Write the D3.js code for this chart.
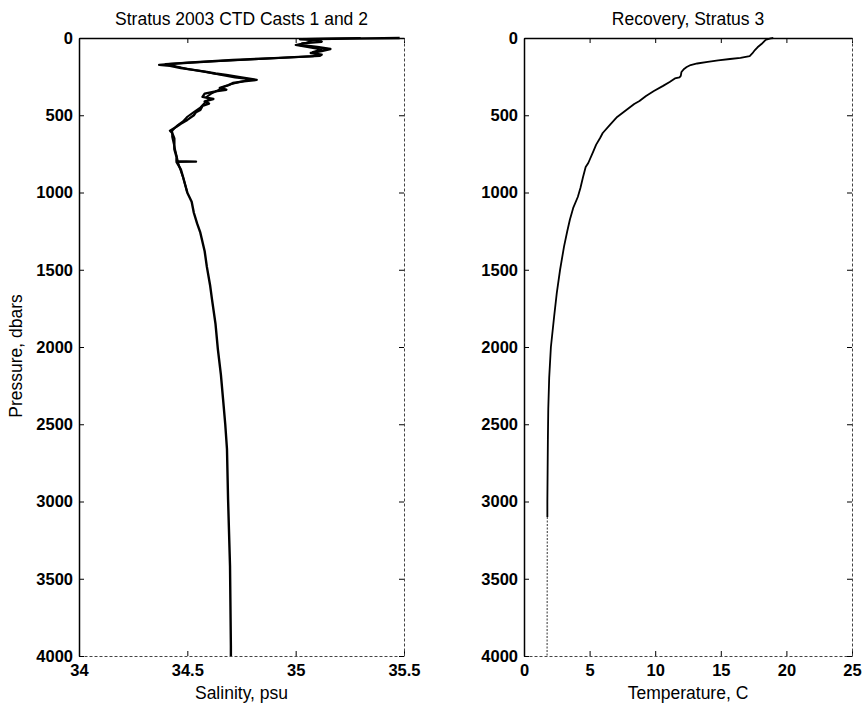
<!DOCTYPE html>
<html>
<head>
<meta charset="utf-8">
<script src="https://cdn.jsdelivr.net/npm/d3@7"></script>
<style>
  body { margin: 0; background: #fff; }
  svg { font-family: "Liberation Sans", Arial, sans-serif; }
  .tick text { font-size: 16.5px; font-weight: bold; fill: #000; }
  .tick line { stroke: #000; }
  .lbl { font-size: 17.5px; }
</style>
</head>
<body>
<svg id="chart" width="866" height="708"></svg>
<script>
// pressure ticks shared by both panels
const pressureTicks = [0, 500, 1000, 1500, 2000, 2500, 3000, 3500, 4000];
const salinityTicks = [34, 34.5, 35, 35.5];
const temperatureTicks = [0, 5, 10, 15, 20, 25];

// CTD cast 1, salinity (psu) vs pressure (dbar)
const salPressure = [0, 4, 8, 14, 24, 35, 45, 58, 71, 84, 97, 108, 116, 130, 142, 160, 174, 180, 194,
  205, 220, 230, 239, 255, 271, 281, 291, 305, 323, 335, 345, 360, 381, 395, 410, 425, 440, 465, 480,
  500, 530, 555, 575, 600, 614, 650, 678, 720, 769, 798, 800, 802, 850, 898, 950, 1002, 1060, 1131,
  1200, 1260, 1380, 1480, 1600, 1693, 1850, 2016, 2180, 2339, 2500, 2662, 2985, 3418, 3935, 4000];
const salinity = [35.48, 35.25, 35.02, 35.10, 35.12, 35.03, 35.02, 35.10, 35.16, 35.12, 35.07, 35.12, 35.11,
  34.90, 34.71, 34.50, 34.37, 34.42, 34.47, 34.52, 34.59, 34.63, 34.68, 34.75, 34.82, 34.76, 34.71,
  34.69, 34.65, 34.68, 34.63, 34.58, 34.57, 34.62, 34.58, 34.60, 34.57, 34.56, 34.54, 34.53, 34.50,
  34.47, 34.45, 34.42, 34.43, 34.44, 34.44, 34.44, 34.45, 34.45, 34.54, 34.45, 34.47, 34.48, 34.49,
  34.50, 34.52, 34.53, 34.545, 34.56, 34.58, 34.59, 34.605, 34.614, 34.63, 34.641, 34.655, 34.665,
  34.675, 34.683, 34.688, 34.697, 34.701, 34.701];

// CTD cast 2, upper part only (deeper it lies on top of cast 1)
const salPressure2 = [0, 6, 15, 30, 45, 60, 75, 90, 105, 118, 135, 150, 168, 185, 200, 215, 235, 255,
  268, 285, 300, 320, 340, 360, 380, 400, 420, 450, 480, 510, 540, 570, 600, 640, 700, 760, 820, 900, 1000];
const salinity2 = [35.30, 35.05, 35.08, 35.05, 35.00, 35.06, 35.12, 35.08, 35.10, 35.08, 34.85, 34.62,
  34.40, 34.45, 34.50, 34.57, 34.64, 34.72, 34.80, 34.74, 34.70, 34.66, 34.64, 34.61, 34.59, 34.60,
  34.58, 34.56, 34.53, 34.50, 34.48, 34.45, 34.43, 34.43, 34.44, 34.45, 34.46, 34.48, 34.50];

// recovery cast, temperature (C) vs pressure (dbar)
const tempPressure = [0, 2, 13, 39, 60, 78, 100, 117, 129, 136, 145, 155, 165, 175, 188, 200, 220, 245,
  255, 262, 285, 310, 343, 375, 408, 427, 460, 492, 511, 557, 615, 647, 690, 731, 809, 835, 900, 971,
  1029, 1100, 1175, 1249, 1350, 1500, 1650, 1800, 2000, 2200, 2400, 2600, 2800, 3000, 3100, 3500, 4000];
const temperature = [19.0, 18.8, 18.4, 18.1, 17.8, 17.6, 17.4, 17.2, 16.5, 15.7, 14.8, 14.0, 13.2, 12.7,
  12.4, 12.2, 12.0, 11.95, 11.85, 11.5, 11.1, 10.6, 9.9, 9.3, 8.8, 8.4, 7.9, 7.4, 7.1, 6.6, 6.0, 5.8,
  5.5, 5.3, 4.9, 4.7, 4.5, 4.3, 4.1, 3.75, 3.5, 3.3, 3.05, 2.75, 2.5, 2.3, 2.05, 1.92, 1.85, 1.82, 1.8,
  1.78, 1.78, 1.77, 1.76];

const svg = d3.select("#chart");
const plotTop = 38, plotBottom = 656;
const fmt = d => String(d);

function drawPanel(o) {
  const x = d3.scaleLinear().domain(o.xDomain).range([o.left, o.right]);
  const y = d3.scaleLinear().domain([0, 4000]).range([plotTop, plotBottom]);
  const g = svg.append("g");

  // MATLAB style: ticks point inward on every side
  g.append("g").attr("transform", `translate(0,${plotTop})`)
    .call(d3.axisTop(x).tickValues(o.xTicks).tickSize(-5).tickSizeOuter(0).tickFormat(""))
    .select(".domain").attr("stroke", "#000").attr("stroke-width", 1.5);
  const xb = g.append("g").attr("transform", `translate(0,${plotBottom})`)
    .call(d3.axisBottom(x).tickValues(o.xTicks).tickSize(-5).tickSizeOuter(0).tickPadding(5).tickFormat(fmt));
  xb.select(".domain").attr("stroke", "#444").attr("stroke-dasharray", "3,2");
  xb.selectAll(".tick text").attr("dy", "0.9em");

  const yl = g.append("g").attr("transform", `translate(${o.left},0)`)
    .call(d3.axisLeft(y).tickValues(pressureTicks).tickSize(-5).tickSizeOuter(0).tickPadding(6).tickFormat(fmt));
  yl.select(".domain").attr("stroke", "#000").attr("stroke-width", 1.5);
  g.append("g").attr("transform", `translate(${o.right},0)`)
    .call(d3.axisRight(y).tickValues(pressureTicks).tickSize(-5).tickSizeOuter(0).tickFormat(""))
    .select(".domain").attr("stroke", "#444").attr("stroke-dasharray", "3,2");

  const line = d3.line().x(d => x(d.v)).y(d => y(d.p));
  o.series.forEach(s => {
    const pts = s.p.map((p, i) => ({p: p, v: s.v[i]}));
    const solid = pts.filter(d => d.p <= o.solidTo);
    const faded = pts.filter(d => d.p >= o.solidTo);
    g.append("path").datum(solid).attr("d", line)
      .attr("fill", "none").attr("stroke", "#000").attr("stroke-width", s.width)
      .attr("stroke-linejoin", "round");
    if (faded.length > 1) {
      g.append("path").datum(faded).attr("d", line)
        .attr("fill", "none").attr("stroke", "#555").attr("stroke-width", 1.2)
        .attr("stroke-dasharray", "2,1.5");
    }
  });

  g.append("text").attr("class", "lbl").attr("x", (o.left + o.right) / 2).attr("y", 25)
    .attr("text-anchor", "middle").text(o.title);
  g.append("text").attr("class", "lbl").attr("x", (o.left + o.right) / 2).attr("y", 699)
    .attr("text-anchor", "middle").text(o.xLabel);
}

drawPanel({
  left: 79, right: 404, xDomain: [34, 35.5], xTicks: salinityTicks, solidTo: 4000,
  series: [{p: salPressure, v: salinity, width: 2.4}, {p: salPressure2, v: salinity2, width: 2}],
  title: "Stratus 2003 CTD Casts 1 and 2", xLabel: "Salinity, psu"
});
drawPanel({
  left: 524, right: 852, xDomain: [0, 25], xTicks: temperatureTicks, solidTo: 3100,
  series: [{p: tempPressure, v: temperature, width: 1.8}],
  title: "Recovery, Stratus 3", xLabel: "Temperature, C"
});

svg.append("text").attr("class", "lbl").attr("transform", "translate(22,356) rotate(-90)")
  .attr("text-anchor", "middle").text("Pressure, dbars");
</script>
</body>
</html>
